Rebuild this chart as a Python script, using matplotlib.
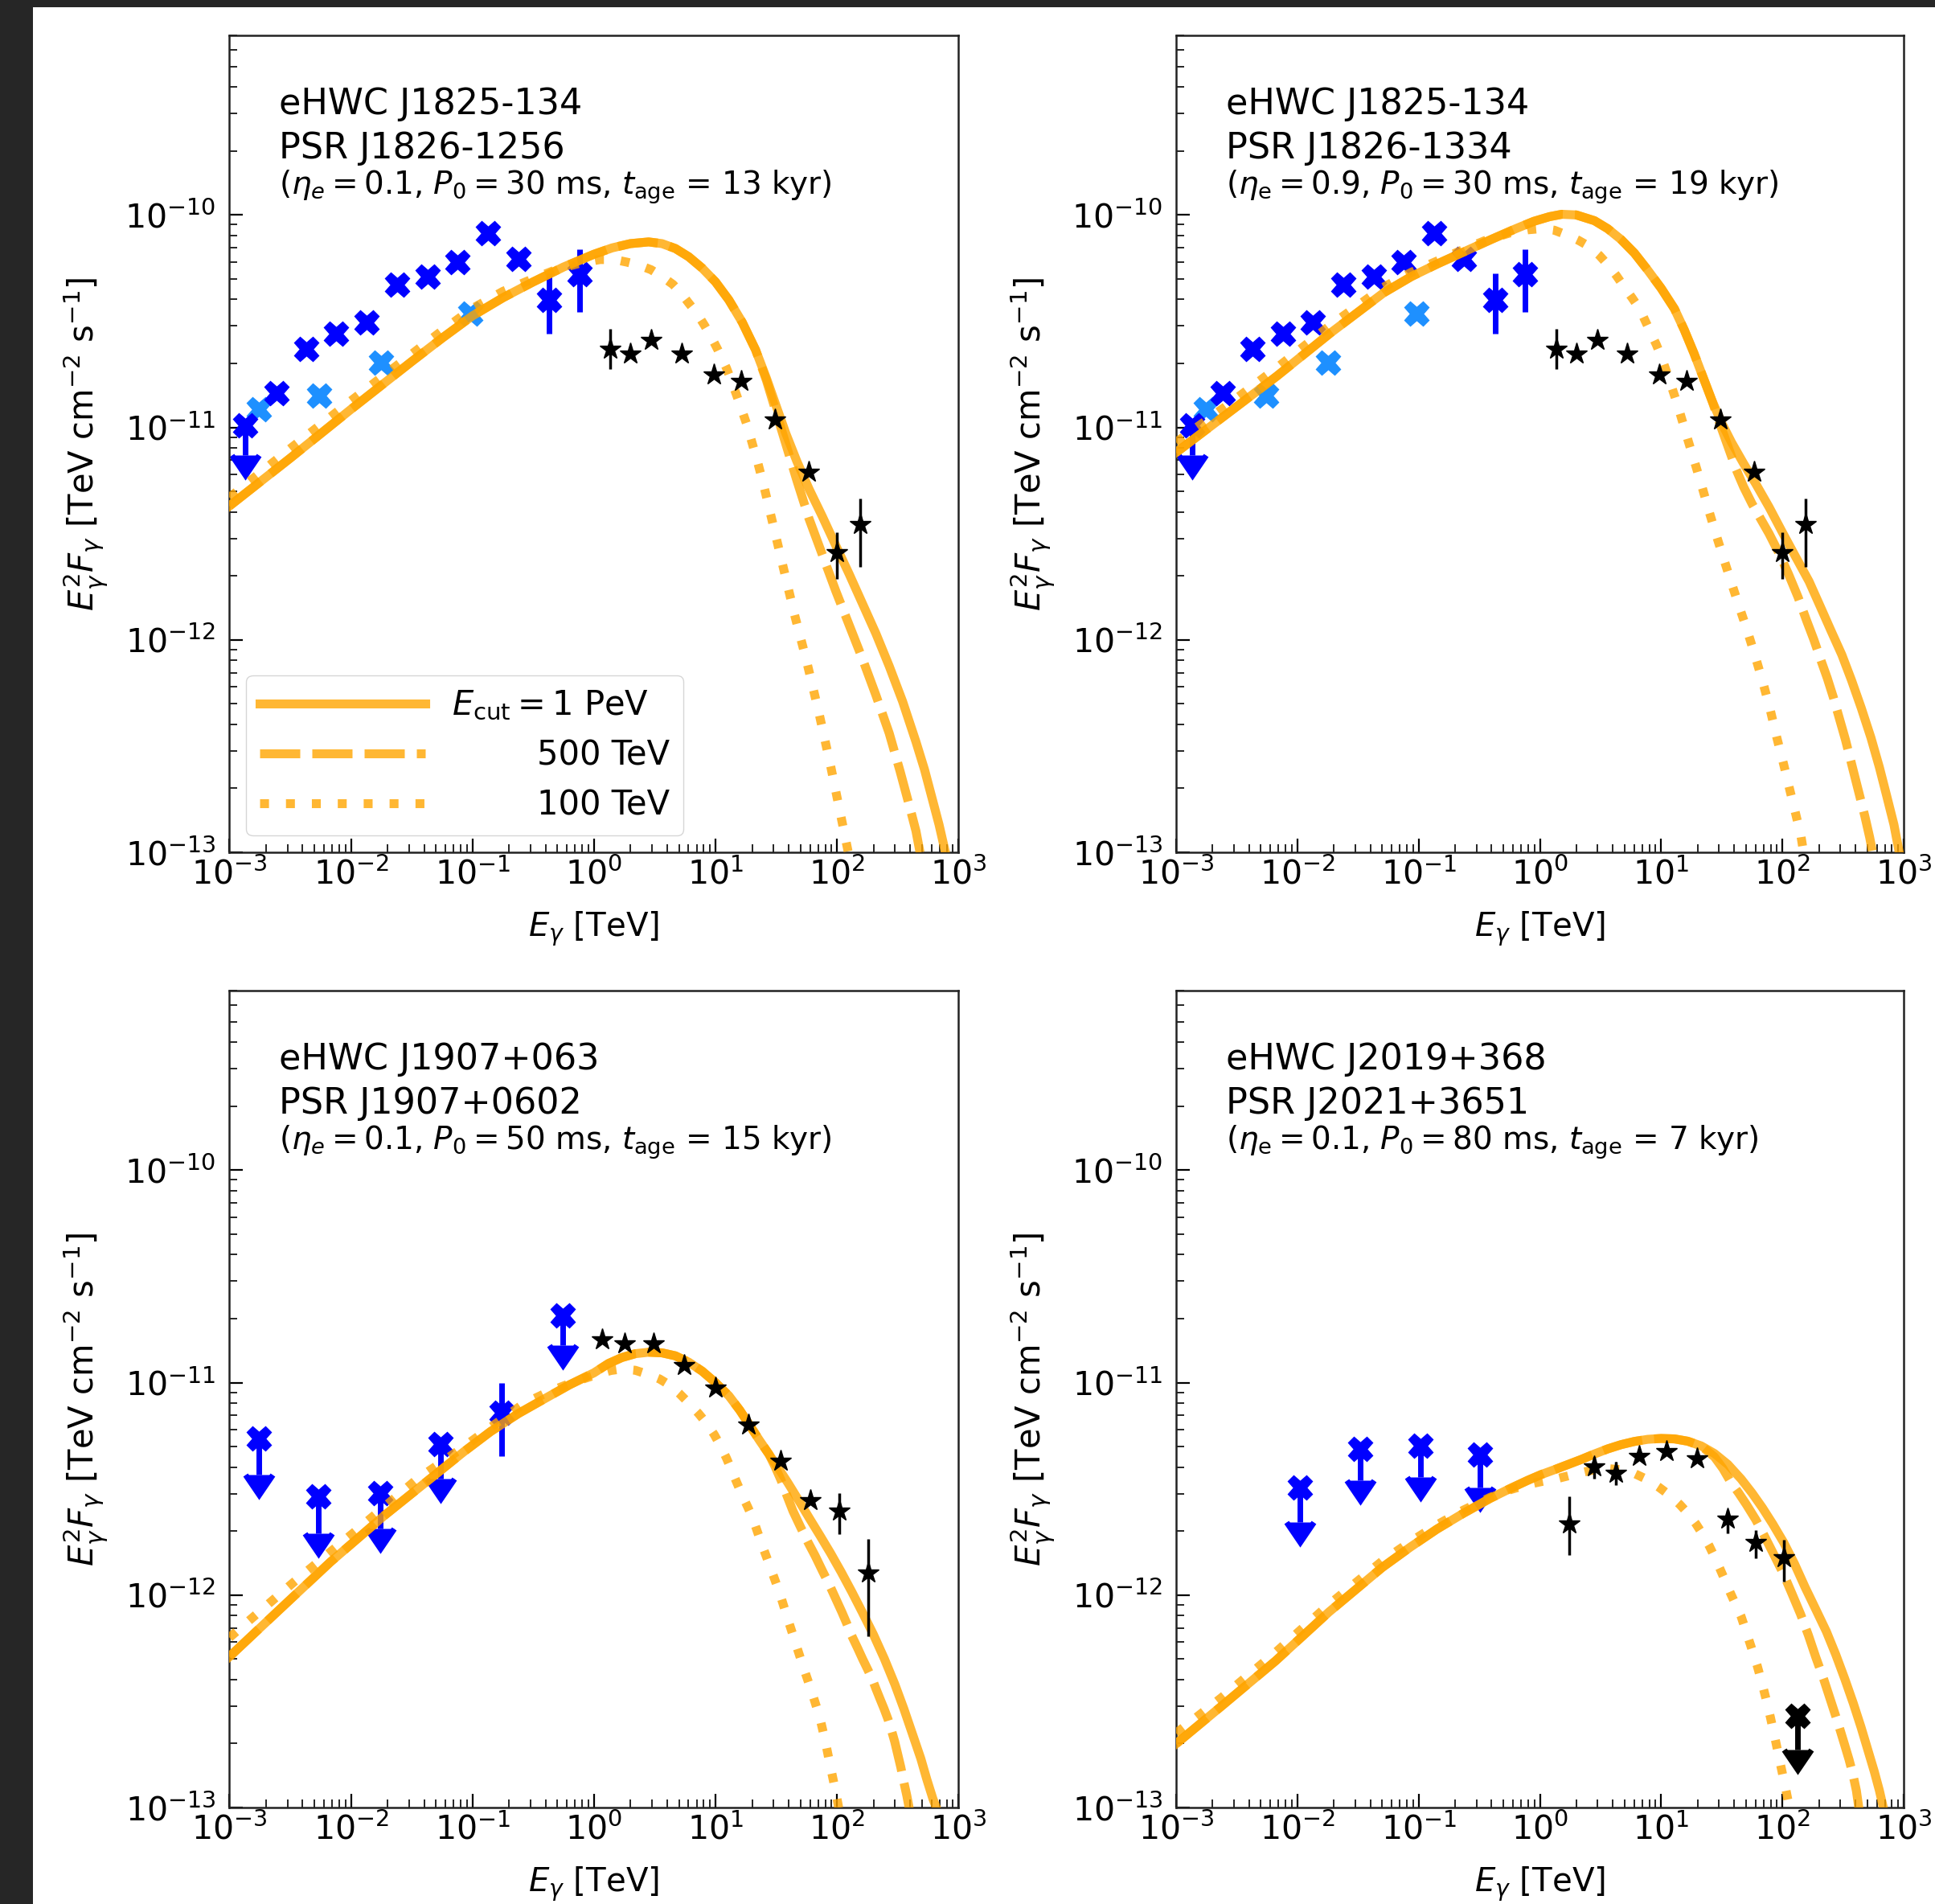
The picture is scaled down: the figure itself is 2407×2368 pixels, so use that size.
"""
plot.py -- four-panel SED comparison (eHWC sources vs PWN model, three E_cut values)
"""
import numpy as np
import matplotlib
matplotlib.use("Agg")
import matplotlib.pyplot as plt
from matplotlib.patches import Rectangle

W, H, DPI = 2407, 2368, 100
ORANGE, BLUE, LBLUE, BLACK = "orange", "blue", "dodgerblue", "black"
LW = 8
DASH = (0, (4.5, 1.35))
DOT = (0, (1.0, 1.9))

plt.rcParams.update({"font.family": "DejaVu Sans", "mathtext.fontset": "dejavusans",
                     "axes.linewidth": 1.8, "axes.edgecolor": "#222222"})

# ---------------- data points ----------------
# eHWC J1825-134 (same points in both top panels)
J1825_X_E = [1.35e-3, 2.43e-3, 4.27e-3, 7.59e-3, 1.35e-2, 2.40e-2, 4.27e-2, 7.53e-2, 0.135, 0.238, 0.427, 0.757]
J1825_X_F = [1.02e-11, 1.45e-11, 2.33e-11, 2.76e-11, 3.13e-11, 4.68e-11, 5.12e-11, 6.0e-11, 8.18e-11, 6.21e-11, 3.97e-11, 5.24e-11]
J1825_X_LO = [2.8e-12, 0, 0, 0, 0, 0, 0, 0, 0, 0, 1.2e-11, 1.74e-11]
J1825_X_HI = [0, 0, 0, 0, 0, 0, 0, 0, 0, 0, 1.33e-11, 1.66e-11]
J1825_X_UL = [True] + [False] * 11
J1825_LX_E = [1.75e-3, 5.5e-3, 1.78e-2, 9.66e-2]
J1825_LX_F = [1.22e-11, 1.41e-11, 2.01e-11, 3.44e-11]
J1825_S_E = [1.36, 2.0, 2.96, 5.25, 9.66, 16.2, 30.9, 58.6, 100, 156]
J1825_S_F = [2.34e-11, 2.22e-11, 2.57e-11, 2.22e-11, 1.77e-11, 1.65e-11, 1.09e-11, 6.17e-12, 2.58e-12, 3.5e-12]
J1825_S_LO = [4.6e-12, 0, 0, 0, 0, 0, 0, 0, 6.5e-13, 1.3e-12]
J1825_S_HI = [5.6e-12, 0, 0, 0, 0, 0, 0, 0, 6.2e-13, 1.11e-12]

# eHWC J1907+063
J1907_X_E = [1.74e-3, 5.43e-3, 1.73e-2, 5.48e-2, 0.173, 0.553]
J1907_X_F = [5.44e-12, 2.92e-12, 3.02e-12, 5.13e-12, 7.21e-12, 2.07e-11]
J1907_X_LO = [1.74e-12, 9.6e-13, 9.7e-13, 1.61e-12, 2.69e-12, 5.7e-12]
J1907_X_HI = [0, 0, 0, 0, 2.79e-12, 0]
J1907_X_UL = [True, True, True, True, False, True]
J1907_S_E = [1.17, 1.79, 3.10, 5.56, 10.07, 18.8, 34.6, 60.4, 104, 180]
J1907_S_F = [1.60e-11, 1.52e-11, 1.52e-11, 1.21e-11, 9.42e-12, 6.32e-12, 4.27e-12, 2.79e-12, 2.49e-12, 1.27e-12]
J1907_S_LO = [0, 0, 0, 0, 0, 0, 0, 0, 5.5e-13, 6.3e-13]
J1907_S_HI = [0, 0, 0, 0, 0, 0, 0, 0, 5.3e-13, 5.6e-13]

# eHWC J2019+368
J2019_X_E = [1.05e-2, 3.29e-2, 0.103, 0.321]
J2019_X_F = [3.21e-12, 4.89e-12, 5.05e-12, 4.59e-12]
J2019_X_LO = [1.0e-12, 1.41e-12, 1.47e-12, 1.38e-12]
J2019_S_E = [1.75, 2.79, 4.23, 6.61, 11.1, 19.8, 35.1, 60.3, 103.5]
J2019_S_F = [2.17e-12, 4.04e-12, 3.74e-12, 4.51e-12, 4.76e-12, 4.40e-12, 2.29e-12, 1.77e-12, 1.50e-12]
J2019_S_LO = [6.3e-13, 5.2e-13, 4.6e-13, 0, 0, 0, 3.3e-13, 2.8e-13, 3.4e-13]
J2019_S_HI = [7.4e-13, 4.4e-13, 5.1e-13, 0, 0, 0, 2.2e-13, 2.6e-13, 3.2e-13]
J2019_UL_E = [133]
J2019_UL_F = [2.70e-13]
J2019_UL_LO = [8.2e-14]

# ---------------- model curves (log10 E [TeV], log10 E^2F) ----------------
TL_1P_X = [-3.0, -2.5, -2.0, -1.5, -1.25, -1.0, -0.75, -0.5, -0.25, 0.0, 0.15, 0.3, 0.45, 0.56, 0.67, 0.78, 0.89, 1.0, 1.11, 1.22, 1.33,
           1.42, 1.5, 1.58, 1.67, 1.77, 1.88, 1.99, 2.1, 2.21, 2.32, 2.43, 2.54, 2.65, 2.72, 2.78, 2.84, 2.90]
TL_1P_Y = [-11.37, -11.145, -10.915, -10.69, -10.58, -10.475, -10.39, -10.315, -10.245, -10.185, -10.155, -10.135, -10.127, -10.135,
           -10.158, -10.197, -10.25, -10.315, -10.40, -10.505, -10.635, -10.77, -10.90, -11.03, -11.16, -11.29, -11.42, -11.556,
           -11.69, -11.83, -11.97, -12.124, -12.29, -12.48, -12.61, -12.74, -12.87, -13.02]
TL_500_X = [-3.0, -2.5, -2.0, -1.5, -1.25, -1.0, -0.75, -0.5, -0.25, 0.0, 0.15, 0.3, 0.45, 0.56, 0.67, 0.78, 0.89, 1.0, 1.11, 1.22, 1.33,
            1.42, 1.5, 1.58, 1.67, 1.77, 1.88, 1.99, 2.1, 2.21, 2.32, 2.43, 2.52, 2.6, 2.65, 2.69]
TL_500_Y = [-11.37, -11.145, -10.915, -10.69, -10.58, -10.475, -10.39, -10.315, -10.245, -10.185, -10.155, -10.135, -10.127, -10.135,
            -10.158, -10.197, -10.25, -10.315, -10.40, -10.505, -10.635, -10.78, -10.93, -11.08, -11.25, -11.43, -11.60, -11.77,
            -11.93, -12.09, -12.26, -12.44, -12.62, -12.79, -12.90, -13.02]
TL_100_X = [-3.0, -2.5, -2.0, -1.5, -1.25, -1.0, -0.75, -0.5, -0.3, -0.1, 0.05, 0.17, 0.27, 0.37, 0.47, 0.56, 0.65, 0.72, 0.78, 0.85,
            0.91, 0.97, 1.02, 1.09, 1.15, 1.2, 1.26, 1.31, 1.35, 1.4, 1.45, 1.5, 1.55, 1.6, 1.65, 1.7, 1.75, 1.8, 1.85, 1.9, 1.95,
            2.0, 2.05, 2.1]
TL_100_Y = [-11.33, -11.10, -10.875, -10.655, -10.545, -10.44, -10.36, -10.30, -10.255, -10.225, -10.21, -10.21, -10.222, -10.236,
            -10.258, -10.29, -10.327, -10.37, -10.415, -10.465, -10.52, -10.58, -10.635, -10.72, -10.81, -10.89, -10.99, -11.09,
            -11.17, -11.28, -11.40, -11.52, -11.64, -11.76, -11.88, -11.99, -12.10, -12.22, -12.34, -12.47, -12.60, -12.74,
            -12.88, -13.02]

TR_1P_X = [-3.0, -2.6, -2.17, -1.73, -1.29, -1.06, -0.84, -0.62, -0.4, -0.2, -0.05, 0.08, 0.18, 0.3, 0.45, 0.56, 0.67, 0.78, 0.89,
           1.0, 1.11, 1.19, 1.27, 1.35, 1.42, 1.5, 1.58, 1.68, 1.78, 1.89, 2.0, 2.11, 2.22, 2.31, 2.4, 2.49, 2.57, 2.65, 2.73,
           2.8, 2.86, 2.92, 2.97]
TR_1P_Y = [-11.118, -10.945, -10.759, -10.557, -10.367, -10.29, -10.229, -10.172, -10.115, -10.065, -10.03, -10.008, -9.997, -10.0,
           -10.027, -10.065, -10.116, -10.18, -10.26, -10.345, -10.442, -10.54, -10.65, -10.77, -10.875, -10.98, -11.07,
           -11.17, -11.265, -11.375, -11.494, -11.61, -11.725, -11.84, -11.956, -12.07, -12.19, -12.32, -12.46, -12.60,
           -12.734, -12.87, -13.02]
TR_500_X = [-3.0, -2.6, -2.17, -1.73, -1.29, -1.06, -0.84, -0.62, -0.4, -0.2, -0.05, 0.08, 0.18, 0.3, 0.45, 0.56, 0.67, 0.78, 0.89,
            1.0, 1.11, 1.19, 1.27, 1.35, 1.42, 1.47, 1.52, 1.57, 1.62, 1.68, 1.75, 1.82, 1.89, 1.97, 2.05, 2.13, 2.2, 2.26,
            2.32, 2.37, 2.42, 2.47, 2.52, 2.56, 2.6, 2.64, 2.68, 2.72, 2.75]
TR_500_Y = [-11.118, -10.945, -10.759, -10.557, -10.367, -10.29, -10.229, -10.172, -10.115, -10.065, -10.03, -10.008, -9.997, -10.0,
            -10.027, -10.065, -10.116, -10.18, -10.26, -10.345, -10.442, -10.54, -10.65, -10.77, -10.875, -10.96, -11.04,
            -11.12, -11.20, -11.28, -11.36, -11.43, -11.50, -11.59, -11.69, -11.80, -11.91, -12.0, -12.10, -12.18, -12.27,
            -12.37, -12.47, -12.56, -12.65, -12.74, -12.83, -12.93, -13.02]
TR_100_X = [-3.0, -2.6, -2.17, -1.73, -1.29, -1.06, -0.84, -0.62, -0.45, -0.25, -0.1, 0.02, 0.12, 0.229, 0.32, 0.406, 0.49, 0.561,
            0.63, 0.694, 0.76, 0.826, 0.87, 0.915, 0.96, 1.003, 1.07, 1.136, 1.18, 1.224, 1.28, 1.335, 1.39, 1.445, 1.5, 1.556,
            1.63, 1.71, 1.78, 1.843, 1.9, 1.954, 2.01, 2.064, 2.11, 2.153, 2.18]
TR_100_Y = [-11.07, -10.905, -10.72, -10.52, -10.34, -10.27, -10.215, -10.16, -10.12, -10.085, -10.07, -10.064, -10.072, -10.096,
            -10.12, -10.148, -10.19, -10.235, -10.285, -10.338, -10.39, -10.445, -10.50, -10.555, -10.61, -10.67, -10.78,
            -10.895, -10.98, -11.065, -11.17, -11.275, -11.385, -11.49, -11.59, -11.69, -11.82, -11.956, -12.085, -12.208,
            -12.33, -12.46, -12.585, -12.713, -12.82, -12.923, -13.02]

BL_1P_X = [-3.0, -2.6, -2.17, -1.73, -1.29, -1.07, -0.85, -0.62, -0.4, -0.2, 0.0, 0.12, 0.23, 0.34, 0.45, 0.56, 0.67, 0.78, 0.89,
           1.0, 1.11, 1.2, 1.285, 1.36, 1.44, 1.52, 1.594, 1.68, 1.77, 1.86, 1.947, 2.035, 2.123, 2.21, 2.3, 2.39, 2.476,
           2.55, 2.63, 2.69, 2.74, 2.79, 2.83]
BL_1P_Y = [-12.29, -12.075, -11.845, -11.628, -11.426, -11.325, -11.23, -11.145, -11.074, -11.01, -10.954, -10.91, -10.882,
           -10.864, -10.857, -10.86, -10.874, -10.904, -10.946, -11.0, -11.062, -11.13, -11.204, -11.27, -11.337, -11.405,
           -11.47, -11.55, -11.636, -11.72, -11.803, -11.892, -11.986, -12.083, -12.186, -12.30, -12.42, -12.535, -12.669,
           -12.77, -12.869, -12.96, -13.02]
BL_500_X = [-3.0, -2.6, -2.17, -1.73, -1.29, -1.07, -0.85, -0.62, -0.4, -0.2, 0.0, 0.12, 0.23, 0.34, 0.45, 0.56, 0.67, 0.78, 0.89,
            1.0, 1.11, 1.2, 1.285, 1.36, 1.44, 1.49, 1.54, 1.59, 1.638, 1.7, 1.76, 1.82, 1.88, 1.94, 2.0, 2.04, 2.079, 2.12,
            2.17, 2.21, 2.255, 2.29, 2.32, 2.355, 2.388, 2.42, 2.45, 2.475, 2.498, 2.525, 2.55, 2.575, 2.6]
BL_500_Y = [-12.29, -12.075, -11.845, -11.628, -11.426, -11.325, -11.23, -11.145, -11.074, -11.01, -10.954, -10.91, -10.882,
            -10.864, -10.857, -10.86, -10.874, -10.904, -10.946, -11.0, -11.062, -11.13, -11.204, -11.27, -11.337, -11.395,
            -11.46, -11.535, -11.605, -11.68, -11.75, -11.815, -11.886, -11.955, -12.03, -12.08, -12.132, -12.19, -12.25,
            -12.30, -12.353, -12.395, -12.44, -12.49, -12.536, -12.585, -12.64, -12.69, -12.745, -12.81, -12.88, -12.945,
            -13.02]
BL_100_X = [-3.0, -2.47, -1.97, -1.465, -1.11, -0.85, -0.58, -0.38, -0.18, 0.05, 0.14, 0.227, 0.34, 0.448, 0.54, 0.624, 0.7, 0.778,
            0.86, 0.933, 0.99, 1.043, 1.09, 1.131, 1.175, 1.219, 1.265, 1.308, 1.35, 1.4, 1.462, 1.528, 1.594, 1.66, 1.726,
            1.792, 1.858, 1.903, 1.947, 1.991, 2.02]
BL_100_Y = [-12.20, -11.939, -11.703, -11.459, -11.318, -11.21, -11.10, -11.045, -11.0, -10.957, -10.943, -10.936, -10.942,
            -10.962, -10.983, -11.012, -11.05, -11.095, -11.145, -11.196, -11.245, -11.30, -11.355, -11.41, -11.47, -11.529,
            -11.585, -11.64, -11.71, -11.79, -11.886, -11.99, -12.111, -12.228, -12.344, -12.455, -12.575, -12.686, -12.81,
            -12.93, -13.02]

BR_1P_X = [-3.0, -2.63, -2.18, -1.74, -1.3, -1.07, -0.85, -0.63, -0.41, -0.25, -0.1, 0.01, 0.12, 0.23, 0.34, 0.45, 0.56, 0.67,
           0.78, 0.89, 1.0, 1.11, 1.22, 1.33, 1.44, 1.55, 1.66, 1.75, 1.835, 1.92, 2.011, 2.1, 2.187, 2.275, 2.363, 2.44,
           2.516, 2.585, 2.648, 2.7, 2.758, 2.8, 2.84]
BR_1P_Y = [-12.70, -12.525, -12.31, -12.08, -11.87, -11.775, -11.69, -11.615, -11.545, -11.50, -11.46, -11.433, -11.41, -11.386,
           -11.362, -11.336, -11.312, -11.292, -11.277, -11.267, -11.263, -11.265, -11.276, -11.298, -11.334, -11.385,
           -11.454, -11.52, -11.589, -11.665, -11.753, -11.853, -11.963, -12.067, -12.172, -12.28, -12.397, -12.51,
           -12.621, -12.72, -12.831, -12.92, -13.02]
BR_500_X = [-3.0, -2.63, -2.18, -1.74, -1.3, -1.07, -0.85, -0.63, -0.41, -0.25, -0.1, 0.01, 0.12, 0.23, 0.34, 0.45, 0.56, 0.67,
            0.78, 0.89, 1.0, 1.11, 1.22, 1.33, 1.44, 1.51, 1.571, 1.64, 1.703, 1.78, 1.85, 1.93, 2.011, 2.08, 2.15, 2.215,
            2.275, 2.34, 2.4, 2.46, 2.516, 2.55, 2.58, 2.61, 2.635]
BR_500_Y = [-12.70, -12.525, -12.31, -12.08, -11.87, -11.775, -11.69, -11.615, -11.545, -11.50, -11.46, -11.433, -11.41, -11.386,
            -11.362, -11.336, -11.312, -11.292, -11.277, -11.267, -11.263, -11.265, -11.276, -11.298, -11.35, -11.405,
            -11.465, -11.52, -11.574, -11.645, -11.72, -11.81, -11.903, -11.995, -12.09, -12.19, -12.292, -12.395, -12.50,
            -12.605, -12.71, -12.775, -12.84, -12.92, -13.02]
BR_100_X = [-3.0, -2.63, -2.18, -1.74, -1.3, -1.07, -0.85, -0.63, -0.41, -0.25, -0.1, 0.02, 0.143, 0.24, 0.341, 0.45, 0.56, 0.67,
            0.78, 0.88, 0.978, 1.07, 1.154, 1.22, 1.286, 1.34, 1.396, 1.44, 1.484, 1.53, 1.571, 1.615, 1.659, 1.7, 1.74, 1.791,
            1.83, 1.87, 1.901, 1.945, 1.989, 2.03, 2.065]
BR_100_Y = [-12.65, -12.485, -12.27, -12.045, -11.84, -11.75, -11.67, -11.60, -11.54, -11.505, -11.48, -11.465, -11.452,
            -11.438, -11.424, -11.41, -11.405, -11.41, -11.428, -11.455, -11.491, -11.53, -11.574, -11.615, -11.664, -11.712,
            -11.768, -11.82, -11.875, -11.935, -11.99, -12.045, -12.10, -12.17, -12.24, -12.33, -12.41, -12.50, -12.575,
            -12.69, -12.81, -12.92, -13.02]

# ---------------- panel text ----------------
NAMES = [("eHWC J1825-134", "PSR J1826-1256", r"($\eta_e = 0.1$, $P_0 = 30$ ms, $t_{\rm age}$ = 13 kyr)"),
         ("eHWC J1825-134", "PSR J1826-1334", r"($\eta_{\rm e} = 0.9$, $P_0 = 30$ ms, $t_{\rm age}$ = 19 kyr)"),
         ("eHWC J1907+063", "PSR J1907+0602", r"($\eta_e = 0.1$, $P_0 = 50$ ms, $t_{\rm age}$ = 15 kyr)"),
         ("eHWC J2019+368", "PSR J2021+3651", r"($\eta_{\rm e} = 0.1$, $P_0 = 80$ ms, $t_{\rm age}$ = 7 kyr)")]
LEGEND_LABELS = [r"$E_{\rm cut} = 1$ PeV", " " * 8 + "500 TeV", " " * 8 + "100 TeV"]


def points(ax, E, F, lo, hi, ul, marker, color, ms, elw, z):
    E, F, lo, hi = (np.asarray(a, float) for a in (E, F, lo, hi))
    ul = np.asarray(ul, bool)
    if (~ul).any():
        ax.errorbar(E[~ul], F[~ul], yerr=[lo[~ul], hi[~ul]], fmt=marker, color=color, ms=ms,
                    elinewidth=elw, capsize=0, zorder=z)
    if ul.any():
        eb = ax.errorbar(E[ul], F[ul], yerr=[lo[ul], hi[ul]], uplims=True, fmt=marker, color=color,
                         ms=ms, elinewidth=elw, capsize=12, capthick=elw, zorder=z)
        for cap in eb[1]:          # drop the flat cap matplotlib adds at the limit value
            if cap.get_marker() == "_":
                cap.set_visible(False)


def curves(ax, c1, c5, c100):
    h = []
    for (lx, ly), ls in zip((c1, c5, c100), ("-", DASH, DOT)):
        h += ax.plot(10 ** np.asarray(lx), 10 ** np.asarray(ly), color=ORANGE, alpha=0.8,
                     lw=LW, ls=ls, zorder=3)
    return h


def style(ax, text):
    ax.set_xscale("log"); ax.set_yscale("log")
    ax.set_xlim(1e-3, 1e3); ax.set_ylim(1e-13, 7e-10)
    ax.tick_params(which="both", direction="in", top=False, right=False, labelsize=29.5)
    ax.tick_params(which="major", length=12, width=1.6)
    ax.tick_params(which="minor", length=7, width=1.2)
    ax.tick_params(axis="x", pad=5.5)
    ax.tick_params(axis="y", pad=12)
    ax.set_xlabel(r"$E_\gamma$ [TeV]", fontsize=29)
    ax.set_ylabel(r"$E_\gamma^2 F_\gamma$ [TeV cm$^{-2}$ s$^{-1}$]", fontsize=30)
    ax.xaxis.set_label_coords(0.5, -0.071)
    ax.yaxis.set_label_coords(-0.165, 0.5)
    ax.text(0.068, 0.904, text[0], transform=ax.transAxes, fontsize=32, va="baseline")
    ax.text(0.068, 0.849, text[1], transform=ax.transAxes, fontsize=32, va="baseline")
    ax.text(0.068, 0.805, text[2], transform=ax.transAxes, fontsize=28, va="baseline")


def main():
    fig = plt.figure(figsize=(W / DPI, H / DPI), dpi=DPI, facecolor="#262626")
    fig.add_artist(Rectangle((41 / W, 0), 1 - 41 / W, 1 - 9 / H, transform=fig.transFigure,
                             facecolor="white", edgecolor="none", zorder=-10))
    pos = [[0.11857, 0.55236, 0.37678, 0.42905], [0.60781, 0.55236, 0.37599, 0.42905],
           [0.11857, 0.05068, 0.37678, 0.42905], [0.60781, 0.05068, 0.37599, 0.42905]]
    axs = [fig.add_axes(p) for p in pos]

    # top panels: eHWC J1825-134
    for ax in axs[:2]:
        points(ax, J1825_X_E, J1825_X_F, J1825_X_LO, J1825_X_HI, J1825_X_UL, "X", BLUE, 22, 5, 2)
        ax.plot(J1825_LX_E, J1825_LX_F, "X", color=LBLUE, ms=22, zorder=2)
        points(ax, J1825_S_E, J1825_S_F, J1825_S_LO, J1825_S_HI, [False] * 10, "*", BLACK, 20, 2.5, 4)
    h = curves(axs[0], (TL_1P_X, TL_1P_Y), (TL_500_X, TL_500_Y), (TL_100_X, TL_100_Y))
    curves(axs[1], (TR_1P_X, TR_1P_Y), (TR_500_X, TR_500_Y), (TR_100_X, TR_100_Y))

    # bottom-left: eHWC J1907+063
    points(axs[2], J1907_X_E, J1907_X_F, J1907_X_LO, J1907_X_HI, J1907_X_UL, "X", BLUE, 22, 5, 2)
    points(axs[2], J1907_S_E, J1907_S_F, J1907_S_LO, J1907_S_HI, [False] * 10, "*", BLACK, 20, 2.5, 4)
    curves(axs[2], (BL_1P_X, BL_1P_Y), (BL_500_X, BL_500_Y), (BL_100_X, BL_100_Y))

    # bottom-right: eHWC J2019+368
    points(axs[3], J2019_X_E, J2019_X_F, J2019_X_LO, [0] * 4, [True] * 4, "X", BLUE, 22, 5, 2)
    points(axs[3], J2019_S_E, J2019_S_F, J2019_S_LO, J2019_S_HI, [False] * 9, "*", BLACK, 20, 2.5, 4)
    points(axs[3], J2019_UL_E, J2019_UL_F, J2019_UL_LO, [0], [True], "X", BLACK, 22, 5, 4)
    curves(axs[3], (BR_1P_X, BR_1P_Y), (BR_500_X, BR_500_Y), (BR_100_X, BR_100_Y))

    for ax, t in zip(axs, NAMES):
        style(ax, t)

    axs[0].legend(h, LEGEND_LABELS, loc="lower left", fontsize=30, handlelength=4.95,
                  borderaxespad=0.5, labelspacing=0.48)
    fig.savefig("out.png", dpi=DPI, facecolor=fig.get_facecolor())


if __name__ == "__main__":
    main()
